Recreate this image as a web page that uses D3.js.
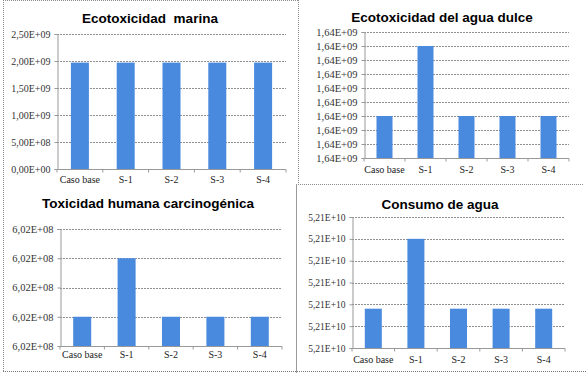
<!DOCTYPE html>
<html><head><meta charset="utf-8">
<script src="https://cdn.jsdelivr.net/npm/d3@7/dist/d3.min.js"></script>
<style>html,body{margin:0;padding:0;background:#fff;}svg{display:block;}
.serif{font-family:"Liberation Serif","Times New Roman",Times,serif !important;}
.ttl{font-family:"Liberation Sans",Arial,Helvetica,sans-serif;font-weight:bold;}
</style>
</head><body>
<svg id="c" width="586" height="373"></svg>
<script>
// ---- data ----
const categories = ["Caso base", "S-1", "S-2", "S-3", "S-4"];
const titles = ["Ecotoxicidad  marina", "Ecotoxicidad del agua dulce", "Toxicidad humana carcinogénica", "Consumo de agua"];
const marinaValues = [1.97e9, 1.97e9, 1.97e9, 1.97e9, 1.97e9];
const dulceValues = [1640000300, 1640000800, 1640000300, 1640000300, 1640000300];
const carcinoValues = [602000010, 602000030, 602000010, 602000010, 602000010];
const aguaValues = [52100000018, 52100000050, 52100000018, 52100000018, 52100000018];
const marinaTicks = [0, 5e8, 1e9, 1.5e9, 2e9, 2.5e9];
const dulceTicks = [1640000000, 1640000100, 1640000200, 1640000300, 1640000400, 1640000500, 1640000600, 1640000700, 1640000800, 1640000900];
const carcinoTicks = [602000000, 602000010, 602000020, 602000030, 602000040];
const aguaTicks = [52100000000, 52100000010, 52100000020, 52100000030, 52100000040, 52100000050, 52100000060];

// ---- layout ----
const panels = [
  {values: marinaValues, ticks: marinaTicks, title: titles[0], x0: 57, x1: 286, yT: 34, yB: 169, tx: 150, ty: 23, tfs: 13.5, lfs: 10, xly: 183, bw: 18},
  {values: dulceValues, ticks: dulceTicks, title: titles[1], x0: 364, x1: 569, yT: 32, yB: 158, tx: 442, ty: 22, tfs: 13.5, lfs: 10.5, xly: 173, bw: 16},
  {values: carcinoValues, ticks: carcinoTicks, title: titles[2], x0: 60, x1: 282, yT: 229, yB: 346, tx: 148, ty: 208, tfs: 13.5, lfs: 10.5, xly: 358, bw: 18},
  {values: aguaValues, ticks: aguaTicks, title: titles[3], x0: 352, x1: 565, yT: 217, yB: 348, tx: 440, ty: 209, tfs: 13.5, lfs: 9.5, xly: 363, bw: 17}
];

function fmt(v) {
  if (v === 0) return "0,00E+00";
  const s = v.toExponential(2); // e.g. 1.64e+9
  const [m, e] = s.split("e");
  const sign = e[0] === "-" ? "-" : "+";
  let ex = e.replace(/[+-]/, "");
  if (ex.length < 2) ex = "0" + ex;
  return m.replace(".", ",") + "E" + sign + ex;
}

const svg = d3.select("#c");
const border = "#8a8a8a";

// panel borders
const bord = svg.append("g").attr("fill", "none").attr("stroke", border).attr("stroke-width", 1);
bord.append("line").attr("x1", 3.5).attr("y1", 0).attr("x2", 3.5).attr("y2", 371).attr("stroke-dasharray", "1,1");
bord.append("line").attr("x1", 3).attr("y1", 0.5).attr("x2", 298).attr("y2", 0.5).attr("stroke-dasharray", "1,1");
bord.append("line").attr("x1", 298.5).attr("y1", 0).attr("x2", 298.5).attr("y2", 184).attr("stroke-dasharray", "1,1");
bord.append("line").attr("x1", 296).attr("y1", 184.5).attr("x2", 584).attr("y2", 184.5).attr("stroke-dasharray", "1,1");
bord.append("line").attr("x1", 296.5).attr("y1", 184).attr("x2", 296.5).attr("y2", 373).attr("stroke", "#9a9a9a");
bord.append("line").attr("x1", 3).attr("y1", 371.5).attr("x2", 586).attr("y2", 371.5).attr("stroke-dasharray", "1,1").attr("stroke", "#777");

panels.forEach(p => {
  const g = svg.append("g");
  const x = d3.scaleBand().domain(categories).range([p.x0, p.x1]);
  const y = d3.scaleLinear().domain([p.ticks[0], p.ticks[p.ticks.length - 1]]).range([p.yB, p.yT]);

  // gridlines
  g.append("g").selectAll("line").data(p.ticks.slice(1)).join("line")
    .attr("x1", p.x0).attr("x2", p.x1)
    .attr("y1", d => Math.round(y(d)) + 0.5).attr("y2", d => Math.round(y(d)) + 0.5)
    .attr("stroke", "#8f8f8f").attr("stroke-dasharray", "2,1");

  // bars
  g.append("g").selectAll("rect").data(p.values).join("rect")
    .attr("x", (d, i) => x(categories[i]) + x.bandwidth() / 2 - p.bw / 2)
    .attr("width", p.bw)
    .attr("y", d => y(d))
    .attr("height", d => p.yB - y(d))
    .attr("fill", "#4a8ade");

  // y axis
  const ya = d3.axisLeft(y).tickValues(p.ticks).tickFormat(fmt).tickSize(3).tickPadding(4);
  const yg = g.append("g").attr("transform", `translate(${p.x0 + 0.5},0)`).call(ya)
    .attr("font-family", null).attr("class", "serif");
  yg.selectAll("path,line").attr("stroke", "#999");
  yg.selectAll("text").attr("class", "serif")
    .attr("font-size", p.lfs).attr("fill", "#333");

  // x axis
  const xg = g.append("g").attr("transform", `translate(0,${p.yB + 0.5})`);
  xg.append("line").attr("x1", p.x0).attr("x2", p.x1).attr("stroke", "#999");
  xg.selectAll("line.t").data(d3.range(categories.length + 1)).join("line").attr("class", "t")
    .attr("x1", i => p.x0 + i * x.step()).attr("x2", i => p.x0 + i * x.step())
    .attr("y1", 0).attr("y2", 3).attr("stroke", "#999");
  g.append("g").selectAll("text").data(categories).join("text")
    .attr("class", "serif")
    .attr("x", d => x(d) + x.bandwidth() / 2).attr("y", p.xly)
    .attr("text-anchor", "middle")
    .attr("font-size", 10).attr("fill", "#222").text(d => d);

  // title
  g.append("text").attr("class", "ttl").attr("x", p.tx).attr("y", p.ty).attr("text-anchor", "middle")
    .attr("font-size", p.tfs).attr("fill", "#000").style("white-space", "pre").text(p.title);
});
</script>
</body></html>
